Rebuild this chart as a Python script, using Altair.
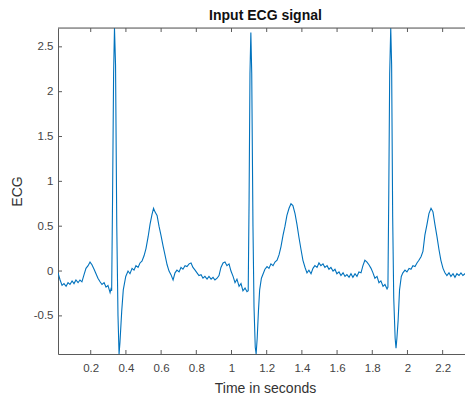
import altair as alt
import pandas as pd

# Time (s) and ECG amplitude values
time_s = [
    0.014, 0.026, 0.037, 0.048, 0.060, 0.071, 0.082, 0.094, 0.105, 0.116,
    0.128, 0.139, 0.150, 0.162, 0.173, 0.185, 0.196, 0.207, 0.219, 0.230,
    0.241, 0.253, 0.264, 0.276, 0.287, 0.298, 0.310, 0.315,
    0.319, 0.324, 0.330, 0.335, 0.341, 0.348, 0.355, 0.361, 0.366, 0.376, 0.385, 0.399,
    0.412, 0.423, 0.435, 0.446, 0.457, 0.469, 0.480, 0.491, 0.503, 0.514,
    0.526, 0.537, 0.548, 0.557, 0.565, 0.577, 0.588, 0.599, 0.611, 0.622,
    0.634, 0.645, 0.656, 0.668, 0.679, 0.690, 0.702, 0.713, 0.724, 0.736,
    0.747, 0.759, 0.770, 0.781, 0.793, 0.804, 0.815, 0.827, 0.838, 0.849,
    0.861, 0.872, 0.884, 0.895, 0.906, 0.918, 0.929, 0.940, 0.952, 0.963,
    0.974, 0.986, 0.997, 1.009, 1.020, 1.031, 1.043, 1.054, 1.065, 1.077, 1.088,
    1.095, 1.100, 1.105, 1.110, 1.115, 1.122, 1.128, 1.135, 1.140, 1.146, 1.153, 1.160, 1.170, 1.180,
    1.190, 1.202, 1.213, 1.224, 1.236, 1.247, 1.259, 1.270, 1.281, 1.293,
    1.304, 1.315, 1.327, 1.338, 1.349, 1.361, 1.372, 1.383, 1.395, 1.406,
    1.418, 1.429, 1.440, 1.452, 1.463, 1.474, 1.486, 1.497, 1.508, 1.520,
    1.531, 1.543, 1.554, 1.565, 1.577, 1.588, 1.599, 1.611, 1.622, 1.634,
    1.645, 1.656, 1.668, 1.679, 1.690, 1.702, 1.713, 1.724, 1.736, 1.747,
    1.758, 1.770, 1.781, 1.793, 1.804, 1.815, 1.827, 1.838, 1.849, 1.861, 1.872, 1.884,
    1.889, 1.894, 1.899, 1.905, 1.910, 1.916, 1.922, 1.930, 1.935, 1.940, 1.947, 1.955, 1.965,
    1.974, 1.986, 1.997, 2.009, 2.020, 2.031, 2.043, 2.054, 2.065, 2.077,
    2.088, 2.099, 2.111, 2.122, 2.134, 2.145, 2.156, 2.168, 2.179, 2.190,
    2.202, 2.213, 2.224, 2.236, 2.247, 2.259, 2.270, 2.281, 2.293, 2.304,
    2.315, 2.327, 2.340,
]
ecg = [
    -0.02, -0.10, -0.16, -0.14, -0.17, -0.13, -0.15, -0.11, -0.14, -0.10,
    -0.13, -0.10, -0.12, -0.04, 0.03, 0.06, 0.10, 0.07, 0.02, -0.03,
    -0.08, -0.12, -0.15, -0.13, -0.18, -0.16, -0.24, -0.20,
    -0.22, 0.80, 2.20, 2.71, 2.30, 0.50, -0.50, -0.925, -0.80, -0.45, -0.21, -0.06,
    0.00, -0.03, 0.03, 0.01, 0.06, 0.04, 0.09, 0.11, 0.17, 0.25,
    0.38, 0.52, 0.63, 0.70, 0.66, 0.62, 0.50, 0.40, 0.28, 0.18,
    0.07, 0.00, -0.04, -0.10, -0.02, 0.01, -0.01, 0.04, 0.02, 0.06,
    0.05, 0.08, 0.09, 0.04, 0.01, -0.02, -0.05, -0.04, -0.08, -0.06,
    -0.09, -0.06, -0.09, -0.07, -0.10, -0.08, -0.05, 0.04, 0.09, 0.10,
    0.06, 0.08, 0.00, -0.06, -0.13, -0.09, -0.17, -0.14, -0.22, -0.19, -0.23,
    -0.22, 0.80, 2.20, 2.66, 2.20, 0.50, -0.40, -0.85, -0.925, -0.75, -0.45, -0.21, -0.08, -0.03,
    0.02, 0.05, 0.03, 0.08, 0.06, 0.10, 0.12, 0.18, 0.27, 0.40,
    0.50, 0.62, 0.70, 0.75, 0.73, 0.64, 0.52, 0.38, 0.24, 0.12,
    0.04, -0.02, 0.01, -0.03, 0.03, 0.06, 0.04, 0.09, 0.06, 0.08,
    0.04, 0.06, 0.02, 0.04, 0.00, 0.02, -0.03, -0.01, -0.05, -0.02,
    -0.06, -0.04, -0.07, -0.03, -0.07, -0.03, -0.06, -0.01, -0.02, 0.06,
    0.12, 0.10, 0.07, 0.03, -0.02, -0.08, -0.06, -0.13, -0.11, -0.17, -0.15, -0.20,
    -0.18, 0.90, 2.20, 2.71, 2.30, 0.60, -0.30, -0.75, -0.86, -0.75, -0.55, -0.21, -0.06,
    -0.02, 0.01, -0.01, 0.03, 0.02, 0.06, 0.05, 0.09, 0.12, 0.16,
    0.22, 0.40, 0.52, 0.64, 0.70, 0.66, 0.52, 0.38, 0.24, 0.12,
    0.03, -0.02, -0.05, -0.02, -0.06, -0.03, -0.07, -0.03, -0.05, -0.02,
    -0.05, -0.03, -0.04,
]

x_ticks = [0.2, 0.4, 0.6, 0.8, 1.0, 1.2, 1.4, 1.6, 1.8, 2.0, 2.2]
y_ticks = [-0.5, 0, 0.5, 1, 1.5, 2, 2.5]

X_DOMAIN = [0.014, 2.327]
Y_DOMAIN = [-0.925, 2.71]
W, H = 407, 326
AXIS_COLOR = "#5a5a5a"
FONT = "Liberation Sans"
LABEL_SIZE = 11.5
TITLE_SIZE = 14

df = pd.DataFrame({"t": time_s, "v": ecg})
xt = pd.DataFrame({"t": x_ticks})
yt = pd.DataFrame({"v": y_ticks})
one = pd.DataFrame({"k": [0]})

xscale = alt.Scale(domain=X_DOMAIN, nice=False, zero=False)
yscale = alt.Scale(domain=Y_DOMAIN, nice=False, zero=False)

common = dict(tickSize=0, grid=False, labelExpr="'' + datum.value",
              labelFont=FONT, labelFontSize=LABEL_SIZE, labelColor="#444444",
              titleFont=FONT, titleFontSize=TITLE_SIZE, titleColor="#333333",
              titleFontWeight="normal", domainColor=AXIS_COLOR, domainWidth=1)

line = alt.Chart(df).mark_line(color="#0072BD", strokeWidth=1.1, clip=True).encode(
    x=alt.X("t:Q", scale=xscale,
            axis=alt.Axis(values=x_ticks, title="Time in seconds",
                          labelPadding=8, titleX=207, titlePadding=8, **common)),
    y=alt.Y("v:Q", scale=yscale,
            axis=alt.Axis(values=y_ticks, title="ECG",
                          labelPadding=5, titlePadding=9, **common)),
)

bottom_ticks = alt.Chart(xt).mark_rule(color=AXIS_COLOR, strokeWidth=1).encode(
    x=alt.X("t:Q", scale=xscale), y=alt.value(H - 4), y2=alt.value(H))
top_ticks = alt.Chart(xt).mark_rule(color=AXIS_COLOR, strokeWidth=1).encode(
    x=alt.X("t:Q", scale=xscale), y=alt.value(0), y2=alt.value(4))
left_ticks = alt.Chart(yt).mark_rule(color=AXIS_COLOR, strokeWidth=1).encode(
    y=alt.Y("v:Q", scale=yscale), x=alt.value(0), x2=alt.value(4))
top_border = alt.Chart(one).mark_rule(color=AXIS_COLOR, strokeWidth=1).encode(
    x=alt.value(0), x2=alt.value(W), y=alt.value(0))

chart = alt.layer(line, bottom_ticks, top_ticks, left_ticks, top_border).properties(
    width=W, height=H,
    title=alt.TitleParams("Input ECG signal", font=FONT, fontSize=14,
                          fontWeight="bold", color="#111111", offset=5, dx=4),
    autosize=alt.AutoSizeParams(type="none"),
    padding={"left": 58, "top": 28, "right": 0, "bottom": 41},
).configure_view(stroke=None).configure(background="white")

chart.save("out.html", embed_options={"renderer": "svg", "actions": False})
